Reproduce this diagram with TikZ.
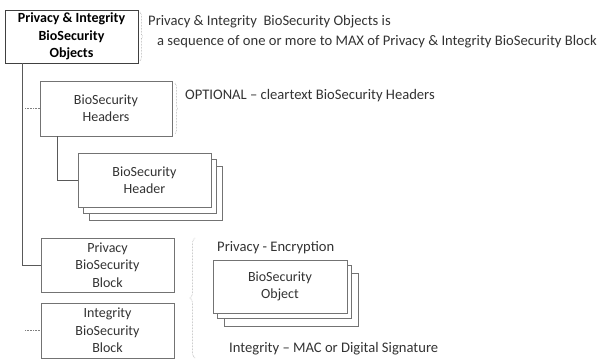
\documentclass[tikz,border=0pt]{standalone}
\usepackage{fontspec}
\setmainfont{Carlito}
\usetikzlibrary{decorations.pathreplacing,calc}

\tikzset{
  txt/.style={text=black!80, font=\fontsize{14.6}{17}\selectfont, inner sep=0pt, anchor=west},
  blk/.style={draw=black!55, line width=0.6pt, fill=white, align=center,
    text=black!80, font=\fontsize{14}{17.3}\selectfont, inner sep=0pt},
  topblk/.style={blk, draw=black!75, font=\bfseries\fontsize{14}{17.3}\selectfont, text=black},
  link/.style={draw=black!65, line width=0.6pt},
  stub/.style={draw=black!50, line width=0.6pt, densely dotted},
  grp/.style={draw=black!45, line width=0.5pt, densely dotted,
    decorate, decoration={brace, amplitude=#1}},
}

\begin{document}
\begin{tikzpicture}[x=1pt, y=-1pt]
\useasboundingbox (0,0) rectangle (602,361);

% top-level container
\node[topblk, minimum width=133pt, minimum height=53pt] (objs) at (71.5,36.5)
  {Privacy \& Integrity\\BioSecurity\\Objects};

% optional cleartext headers
\node[blk, minimum width=132pt, minimum height=55pt] (hdrs) at (106,108.5)
  {BioSecurity\\Headers};

% stacked header records
\node[blk, minimum width=133pt, minimum height=54pt] (hdrC) at (155.5,193) {};
\node[blk, minimum width=133pt, minimum height=54pt] (hdrB) at (149.5,186) {};
\node[blk, minimum width=133pt, minimum height=54pt] (hdrA) at (144.5,180)
  {BioSecurity\\Header};

% privacy / integrity blocks
\node[blk, minimum width=133pt, minimum height=54pt] (priv) at (107.5,265)
  {Privacy\\BioSecurity\\Block};
\node[blk, minimum width=133pt, minimum height=55pt] (integ) at (107.5,330.5)
  {Integrity\\BioSecurity\\Block};

% stacked object records
\node[blk, minimum width=134pt, minimum height=53pt] (objC) at (291,300) {};
\node[blk, minimum width=134pt, minimum height=53pt] (objB) at (284,292) {};
\node[blk, minimum width=134pt, minimum height=53pt] (objA) at (280,286.5)
  {BioSecurity\\Object};

% connectors
\draw[link] ($(objs.south west)+(18,0)$) |- (priv.west);
\draw[stub] (25,108.5) -- (hdrs.west);
\draw[stub] (25,330.5) -- (integ.west);
\draw[link] ($(hdrs.south west)+(18,0)$) |- (hdrA.west);

% group braces
\draw[grp=2.5pt] (140,12) -- (140,61);
\draw[grp=2.5pt] (175,83) -- (175,134);
\draw[grp=5pt] (195,358) -- (195,238);

% annotations
\node[txt] (t1) at (148,22) {Privacy \& Integrity\ \ BioSecurity Objects is};
\node[txt] (t2) at (157,42) {a sequence of one or more to MAX of Privacy \& Integrity BioSecurity Block};
\node[txt] (t3) at (185,96) {OPTIONAL – cleartext BioSecurity Headers};
\node[txt] (t4) at (217,248) {Privacy - Encryption};
\node[txt] (t5) at (229,349) {Integrity – MAC or Digital Signature};
\end{tikzpicture}
\end{document}
